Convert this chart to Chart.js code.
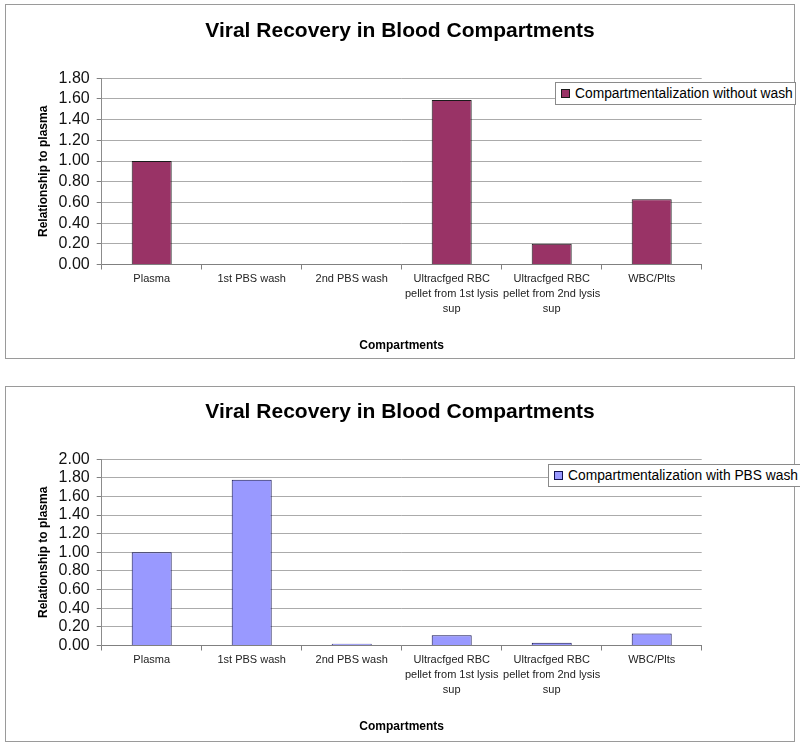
<!DOCTYPE html>
<html>
<head>
<meta charset="utf-8">
<script src="https://cdn.jsdelivr.net/npm/chart.js@4.4.1/dist/chart.umd.min.js"></script>
<style>
  html, body { margin: 0; padding: 0; background: #fff; width: 800px; height: 745px; overflow: hidden; position: relative; }
  .frame { position: absolute; box-sizing: border-box; border: 1px solid #9a9a9a; background: #fff; }
  canvas { position: absolute; left: 0; }
  .legend { position: absolute; box-sizing: border-box; border: 1px solid #8a8a8a; background: #fff;
            display: flex; align-items: center; font-family: "Liberation Sans", Arial, sans-serif; font-size: 13.8px; color: #000; white-space: nowrap; }
  .legend .sw { width: 7px; height: 7px; border: 1px solid #000; margin-left: 5px; margin-right: 5px; }
</style>
</head>
<body>
<div class="frame" style="left:5px; top:4px; width:790px; height:355px;"></div>
<div class="frame" style="left:5px; top:386px; width:790px; height:356px;"></div>
<canvas id="c1" width="800" height="364" style="top:0px;"></canvas>
<canvas id="c2" width="800" height="364" style="top:381px;"></canvas>
<div class="legend" id="lg1" style="left:555px; top:82px; width:241px; height:23px;"></div>
<div class="legend" id="lg2" style="left:548px; top:464px; width:260px; height:23px;"></div>
<script>
// ---- data ----
const chartTitle = "Viral Recovery in Blood Compartments";
const categories = [
  ["Plasma"],
  ["1st PBS wash"],
  ["2nd PBS wash"],
  ["Ultracfged RBC", "pellet from 1st lysis", "sup"],
  ["Ultracfged RBC", "pellet from 2nd lysis", "sup"],
  ["WBC/Plts"]
];
const seriesWithoutWashLabel = "Compartmentalization without wash";
const seriesWithoutWash = [1.00, 0.00, 0.00, 1.59, 0.20, 0.63];
const seriesWithWashLabel = "Compartmentalization with PBS wash";
const seriesWithWash = [1.00, 1.78, 0.02, 0.11, 0.03, 0.13];
const yMaxTop = 1.8;
const yMaxBottom = 2.0;
const yStep = 0.2;
const xAxisTitle = "Compartments";
const yAxisTitle = "Relationship to plasma";

// ---- styling / helpers ----
const FONT = "'Liberation Sans', Arial, sans-serif";

function makeChart(id, legendId, label, values, fill, border, yMax) {
  const ctx = document.getElementById(id);
  const chart = new Chart(ctx, {
    type: 'bar',
    data: {
      labels: categories,
      datasets: [{
        label: label,
        data: values,
        backgroundColor: fill,
        borderColor: border,
        borderWidth: 1,
        barPercentage: 0.4,
        categoryPercentage: 1.0,
        yAxisID: 'y'
      }]
    },
    options: {
      responsive: false,
      animation: false,
      devicePixelRatio: 1,
      layout: { padding: { top: 0, left: 0, right: 0, bottom: 5.5 } },
      plugins: {
        legend: { display: false },
        tooltip: { enabled: false },
        title: {
          display: true,
          text: chartTitle,
          color: '#000',
          font: { family: FONT, size: 21, weight: 'bold', lineHeight: 1.2 },
          padding: { top: 18.4, bottom: 34.6 }
        }
      },
      scales: {
        x: {
          grid: { display: true, drawOnChartArea: false, drawTicks: true, tickLength: 5, offset: true, color: '#808080', tickColor: '#808080' },
          border: { display: true, color: '#808080', width: 1 },
          ticks: {
            color: '#222', autoSkip: false, maxRotation: 0, minRotation: 0, padding: 2,
            font: { family: FONT, size: 11, lineHeight: 15 / 11 }
          },
          title: {
            display: true, text: xAxisTitle, color: '#000',
            font: { family: FONT, size: 12, weight: 'bold', lineHeight: 1.2 },
            padding: { top: 0, bottom: 5.3 }
          },
          afterFit: (s) => { s.height = 94; }
        },
        y: {
          min: 0, max: yMax,
          grid: { color: '#ababab', tickColor: '#808080', tickLength: 5, drawTicks: true },
          border: { display: true, color: '#8c8c8c', width: 1 },
          ticks: {
            stepSize: yStep, autoSkip: false, color: '#111', padding: 7,
            font: { family: FONT, size: 16 },
            callback: (v) => Number(v).toFixed(2)
          },
          title: {
            display: true, text: yAxisTitle, color: '#000',
            font: { family: FONT, size: 12, weight: 'bold', lineHeight: 1.2 },
            padding: { top: 36, bottom: 0 }
          },
          afterFit: (s) => { s.width = 101.7; }
        },
        yR: {
          position: 'right', display: true,
          grid: { display: false }, border: { display: false },
          ticks: { display: false },
          afterFit: (s) => { s.width = 98.3; }
        }
      }
    }
  });
  // HTML legend built from the chart's dataset
  const lg = document.getElementById(legendId);
  const ds = chart.data.datasets[0];
  const sw = document.createElement('span');
  sw.className = 'sw';
  sw.style.background = ds.backgroundColor;
  sw.style.borderColor = ds.borderColor;
  const tx = document.createElement('span');
  tx.textContent = ds.label;
  lg.appendChild(sw);
  lg.appendChild(tx);
  return chart;
}

makeChart('c1', 'lg1', seriesWithoutWashLabel, seriesWithoutWash, '#993366', '#1a1a1a', yMaxTop);
makeChart('c2', 'lg2', seriesWithWashLabel, seriesWithWash, '#9999ff', '#101050', yMaxBottom);
</script>
</body>
</html>
